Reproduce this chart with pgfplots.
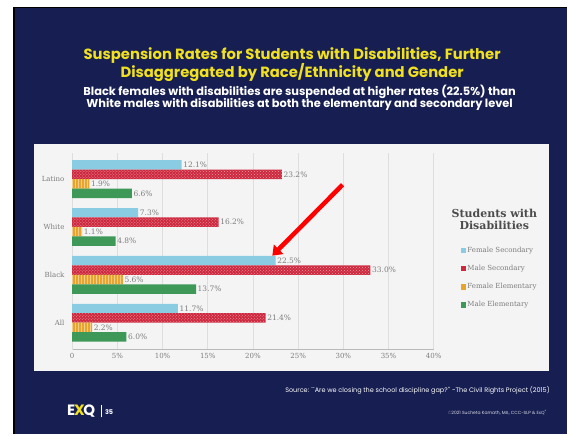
\documentclass[border=0pt]{standalone}
\usepackage{pgfplots}
\pgfplotsset{compat=1.18}
\usetikzlibrary{patterns,arrows.meta}
\usepackage{fontspec}
\setmainfont{DejaVu Serif}
\newfontfamily\pop{Poppins}
\definecolor{navy}{RGB}{22,30,82}
\definecolor{panel}{RGB}{244,244,244}
\definecolor{gridc}{RGB}{222,222,222}
\definecolor{labc}{RGB}{125,125,125}
\definecolor{cblue}{RGB}{138,205,226}
\definecolor{cred}{RGB}{205,40,62}
\definecolor{corange}{RGB}{232,165,45}
\definecolor{cgreen}{RGB}{62,152,88}
\definecolor{tyellow}{RGB}{240,224,30}
\begin{document}
\begin{tikzpicture}[x=1pt,y=1pt]
\fill[white] (0,0) rectangle (568,435);
\fill[navy] (14,0) rectangle (568,427);
\draw[black,line width=1.5pt] (13.8,0) -- (13.8,427.3) -- (568,427.3);
\fill[panel] (34,63.3) rectangle (549.3,291);
\begin{axis}[
  at={(72.3pt,85pt)}, anchor=south west,
  scale only axis, width=362pt, height=197pt,
  xmin=0, xmax=40, ymin=-0.56, ymax=3.55,
  xbar, bar width=9.5pt,
  axis lines*=left,
  x axis line style={draw=gray!55, line width=0.6pt},
  y axis line style={draw=gridc, line width=0.6pt},
  xmajorgrids, grid style={draw=gridc, line width=0.6pt},
  xtick={0,5,10,15,20,25,30,35,40},
  xticklabels={0,5\%,10\%,15\%,20\%,25\%,30\%,35\%,40\%},
  ytick={0,1,2,3},
  yticklabels={All,Black,White,Latino},
  tick style={draw=none},
  tick label style={font=\fontsize{7}{8}\selectfont, text=labc},
  /pgf/number format/assume math mode=true,
  point meta=x,
  nodes near coords={\pgfmathprintnumber[fixed,precision=1,fixed zerofill]{\pgfplotspointmeta}\%},
  every node near coord/.append style={font=\fontsize{7.5}{8}\selectfont, text=labc, inner sep=1.5pt},
  legend style={at={(1.074,0.528)}, anchor=north west, draw=none, fill=none,
    font=\fontsize{7}{8}\selectfont, text=labc, row sep=8.3pt, inner sep=0pt,
    nodes={inner sep=1.5pt}},
  legend cell align=left,
  legend image code/.code={\fill[#1, draw=none] (0pt,-2.6pt) rectangle (5.3pt,2.7pt);},
]
\addplot[forget plot, fill=cblue, draw=none, bar shift=14.25pt] coordinates {(11.7,0) (22.5,1) (7.3,2) (12.1,3)};
\addplot[forget plot, fill=cred, draw=none, bar shift=4.75pt,
  postaction={pattern=crosshatch dots, pattern color=white!55!cred}] coordinates {(21.4,0) (33.0,1) (16.2,2) (23.2,3)};
\addplot[forget plot, fill=corange, draw=none, bar shift=-4.75pt,
  postaction={pattern=vertical lines, pattern color=white!45!corange}] coordinates {(2.2,0) (5.6,1) (1.1,2) (1.9,3)};
\addplot[forget plot, fill=cgreen, draw=none, bar shift=-14.25pt] coordinates {(6.0,0) (13.7,1) (4.8,2) (6.6,3)};
\addlegendimage{fill=cblue, draw=none}
\addlegendentry{Female Secondary}
\addlegendimage{fill=cred, draw=none}
\addlegendentry{Male Secondary}
\addlegendimage{fill=corange, draw=none}
\addlegendentry{Female Elementary}
\addlegendimage{fill=cgreen, draw=none}
\addlegendentry{Male Elementary}
\end{axis}
\node[text=black!70, font=\bfseries\fontsize{11}{12}\selectfont, align=center] at (495,215) {Students with\\Disabilities};
\node[text=tyellow, font=\pop\bfseries\fontsize{14.8}{17}\selectfont] at (292.5,379) {Suspension Rates for Students with Disabilities, Further};
\node[text=tyellow, font=\pop\bfseries\fontsize{14.8}{17}\selectfont] at (292.5,362) {Disaggregated by Race/Ethnicity and Gender};
\node[text=white, font=\pop\bfseries\fontsize{11.4}{13}\selectfont] at (300,343) {Black females with disabilities are suspended at higher rates (22.5\%) than};
\node[text=white, font=\pop\bfseries\fontsize{11.4}{13}\selectfont] at (300,330) {White males with disabilities at both the elementary and secondary level};
\draw[red, line width=4.5pt, -{Triangle[length=9pt,width=13pt]}] (343,250) -- (272.7,179);
\node[text=white, font=\pop\fontsize{6.5}{8}\selectfont, anchor=east] at (554,44) {Source: ``Are we closing the school discipline gap?'' -The Civil Rights Project (2015)};
\node[text=white!85!navy, font=\pop\fontsize{4.5}{6}\selectfont, anchor=east] at (551,22) {\textcopyright2021 Sucheta Kamath, MA, CCC-SLP \& ExQ\textsuperscript{\textregistered}};
\node[font=\pop\bfseries\fontsize{15}{16}\selectfont, anchor=west, inner sep=0] at (67,23) {\textcolor{white}{E}\kern-1pt\textcolor{tyellow}{X}\kern-1.5pt\textcolor{white}{Q}};
\draw[white, line width=0.8pt] (102,17) -- (102,29);
\node[text=white, font=\pop\bfseries\fontsize{6.5}{8}\selectfont, anchor=west, inner sep=0] at (105,22.5) {35};
\end{tikzpicture}
\end{document}
